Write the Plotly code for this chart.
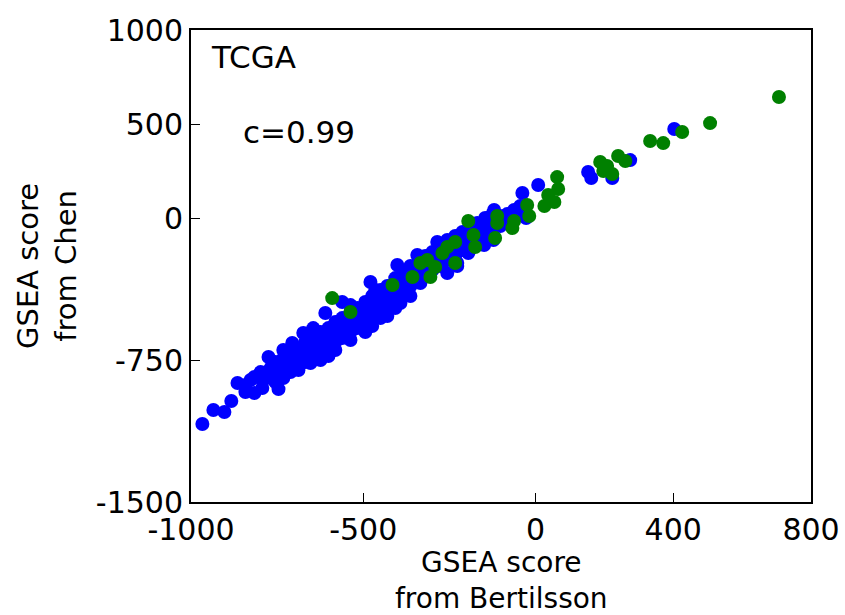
import plotly.graph_objects as go

# GSEA scores per gene set: Bertilsson (x) vs Chen (y)
blue_x = [
    -967, -935, -903, -883, -865, -816, -816, -798, -775, -746, -732, -706, -688, -653,
    -674, -645, -610, -561, -546, -508, -479, -450, -401, -392, -343, -334, -285, -256,
    -227, -195, -169, -122,
    -842, -842, -827, -793, -793, -769, -769, -755, -755, -755, -732, -732, -732,
    -711, -711, -711, -691, -691, -691, -668, -668, -668, -648, -648, -648,
    -624, -624, -624, -624, -601, -601, -601, -601, -581, -581, -581, -581,
    -561, -561, -561, -537, -537, -537, -537, -537, -517, -517, -517,
    -494, -494, -494, -494, -474, -474, -474, -474, -465, -450, -450, -450,
    -430, -430, -430, -430, -407, -407, -407, -407, -384, -384, -384,
    -363, -363, -363, -363, -340, -340, -340, -320, -320, -320, -299, -299, -299,
    -276, -276, -276, -256, -256, -256, -233, -233, -233, -212, -212, -212,
    -189, -189, -189, -166, -166, -166, -146, -146, -146, -125, -125, -125,
    -102, -102, -82, -82, -62, -62, -44, -44,
    -120, -47, -38, -27, 8, 162, 153, 223, 275, 403, -160, -204, -149, -233, -227,
]
blue_y = [
    -1087, -1013, -1023, -965, -870, -838, -923, -812, -732, -902, -695, -658, -801, -764,
    -605, -579, -499, -441, -626, -536, -335, -483, -245, -446, -192, -340, -123, -287,
    -234, -181, -22, -112,
    -880, -918, -854, -854, -896, -791, -843, -759, -812, -865, -738, -791, -843,
    -706, -759, -812, -685, -738, -780, -653, -706, -759, -631, -685, -727,
    -600, -653, -706, -748, -579, -631, -685, -727, -547, -600, -653, -695,
    -526, -579, -631, -457, -494, -547, -600, -642, -473, -526, -579,
    -441, -494, -547, -600, -409, -462, -515, -568, -377, -377, -430, -526,
    -356, -409, -462, -515, -314, -367, -420, -473, -282, -335, -388,
    -250, -303, -356, -409, -229, -282, -324, -197, -250, -303, -176, -229, -271,
    -144, -197, -250, -112, -165, -218, -91, -144, -197, -70, -123, -165,
    -49, -102, -144, -38, -81, -123, 4, -49, -91, 25, -28, -70,
    15, -38, 25, -17, 47, 4, 68, 25,
    47, 57, 137, 4, 179, 216, 248, 216, 311, 476, -49, -86, -139, -176, -250,
]

green_x = [
    707, 507, 426, 333, 371, 240, 261, 188, 208, 197, 223, 63, 66, 37, 55, 26,
    -24, -18, -62, -67, -111, -111, -117, -195, -180, -175, -233, -233,
    -256, -270, -314, -334, -291, -305, -357, -415, -590, -537,
]
green_y = [
    645, 507, 460, 412, 401, 333, 306, 301, 280, 253, 237, 221, 158, 126, 89, 68,
    73, 15, -12, -49, 15, -22, -102, -12, -86, -149, -123, -234,
    -149, -181, -218, -234, -255, -308, -308, -351, -420, -494,
]

x_ticks = [-1000, -500, 0, 400, 800]
x_tick_text = ["-1000", "-500", "0", "400", "800"]
y_ticks = [-1500, -750, 0, 500, 1000]
y_tick_text = ["-1500", "-750", "0", "500", "1000"]

FONT = "DejaVu Sans"

fig = go.Figure()
fig.add_trace(go.Scatter(
    x=blue_x, y=blue_y, mode="markers",
    marker=dict(color="#0000ff", size=14, line=dict(width=0)),
    showlegend=False, hoverinfo="skip",
))
fig.add_trace(go.Scatter(
    x=green_x, y=green_y, mode="markers",
    marker=dict(color="#008000", size=14, line=dict(width=0)),
    showlegend=False, hoverinfo="skip",
))

axis_common = dict(
    showgrid=False, zeroline=False, showline=True, mirror=True,
    linecolor="black", linewidth=2,
    ticks="inside", ticklen=9, tickwidth=1, tickcolor="black",
    tickfont=dict(family=FONT, size=30, color="black"),
    automargin=False,
)

fig.update_xaxes(range=[-1000, 800], tickmode="array",
                 tickvals=x_ticks, ticktext=x_tick_text, **axis_common)
fig.update_yaxes(range=[-1500, 1000], tickmode="array",
                 tickvals=y_ticks, ticktext=y_tick_text, **axis_common)

fig.add_annotation(x=-949, y=857, xref="x", yref="y", text="TCGA",
                   showarrow=False, xanchor="left", yanchor="middle",
                   font=dict(family=FONT, size=31, color="black"))
fig.add_annotation(x=-856, y=460, xref="x", yref="y", text="c=0.99",
                   showarrow=False, xanchor="left", yanchor="middle",
                   font=dict(family=FONT, size=31, color="black"))

fig.add_annotation(x=0.5, y=0, xref="paper", yref="paper",
                   text="GSEA score<br>from Bertilsson", showarrow=False,
                   xanchor="center", yanchor="middle", yshift=-78,
                   font=dict(family=FONT, size=28, color="black"))
fig.add_annotation(x=0, y=0.5, xref="paper", yref="paper",
                   text="GSEA score<br>from Chen", showarrow=False, textangle=-90,
                   xanchor="center", yanchor="middle", xshift=-144,
                   font=dict(family=FONT, size=29, color="black"))

fig.update_layout(
    width=845, height=615,
    margin=dict(l=191, r=34, t=30, b=113, autoexpand=False),
    paper_bgcolor="white", plot_bgcolor="white",
    font=dict(family=FONT, color="black"),
)

fig.write_html("out.html")
